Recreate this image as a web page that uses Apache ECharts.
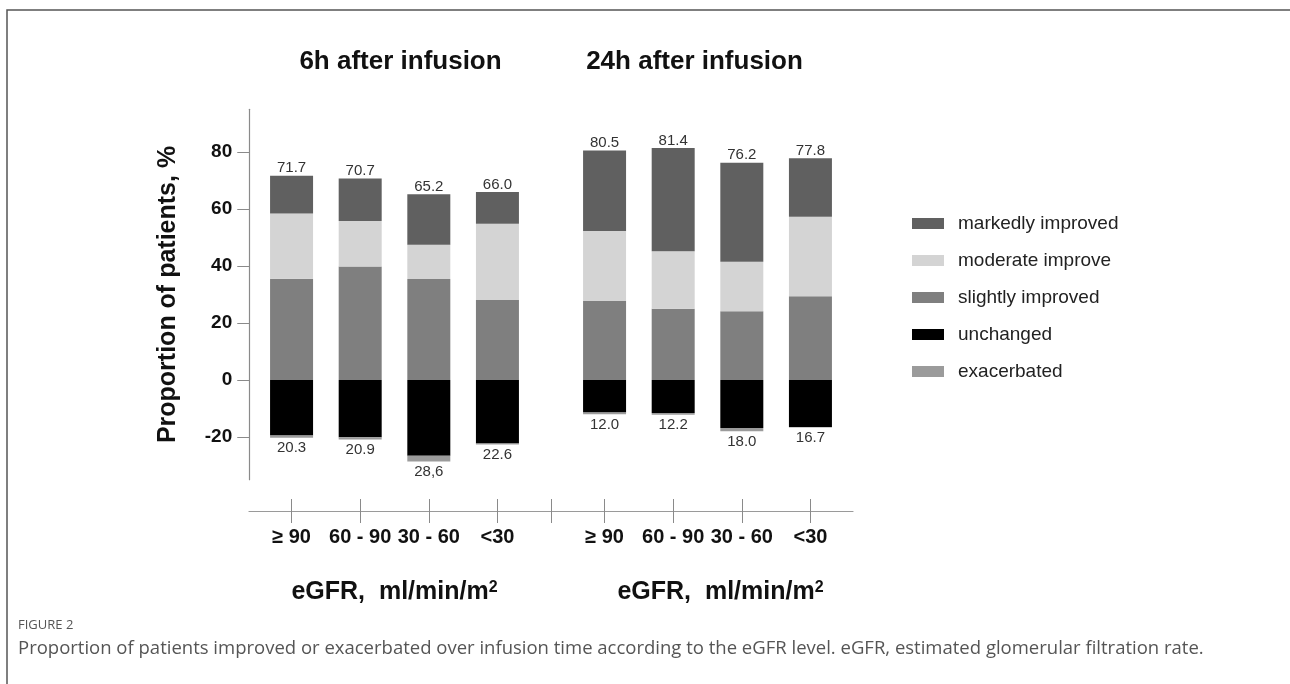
<!DOCTYPE html>
<html>
<head>
<meta charset="utf-8">
<title>eGFR infusion</title>
<script src="https://cdn.jsdelivr.net/npm/echarts@6/dist/echarts.min.js"></script>
<style>
  html, body { margin: 0; padding: 0; background: #fff; }
  #chart { width: 1290px; height: 684px; }
</style>
</head>
<body>
<div id="chart"></div>
<script>
const categories = ['≥ 90', '60 - 90', '30 - 60', '<30']
const yTicks = [-20, 0, 20, 40, 60, 80]

// 6h after infusion
const slightly6h = [35.5, 39.8, 35.4, 28.1]
const moderate6h = [22.9, 16.0, 12.1, 26.7]
const markedly6h = [13.3, 14.9, 17.7, 11.2]
const unchanged6h = [-19.5, -20.1, -26.6, -22.3]
const exacerbated6h = [-0.8, -0.8, -2.0, -0.3]
const topLabels6h = ['71.7', '70.7', '65.2', '66.0']
const bottomLabels6h = ['20.3', '20.9', '28,6', '22.6']

// 24h after infusion
const slightly24h = [27.7, 25.0, 24.1, 29.4]
const moderate24h = [24.6, 20.2, 17.4, 27.9]
const markedly24h = [28.2, 36.2, 34.7, 20.5]
const unchanged24h = [-11.4, -11.6, -16.8, -16.5]
const exacerbated24h = [-0.6, -0.6, -1.2, -0.2]
const topLabels24h = ['80.5', '81.4', '76.2', '77.8']
const bottomLabels24h = ['12.0', '12.2', '18.0', '16.7']

const colors = {
  'markedly improved': '#606060',
  'moderate improve': '#d4d4d4',
  'slightly improved': '#7f7f7f',
  'unchanged': '#000000',
  'exacerbated': '#9b9b9b'
}

const FONT = 'Liberation Sans, Arial, sans-serif'
const gridTop = 109.25
const gridHeight = 370.5

function valueLabel(texts, pos, dist) {
  return {
    show: true,
    position: pos,
    distance: dist,
    fontFamily: FONT,
    fontSize: 15,
    color: '#333',
    formatter: p => texts[p.dataIndex]
  }
}

function panelSeries(idx, d) {
  const base = { type: 'bar', xAxisIndex: idx, yAxisIndex: idx, stack: 'p' + idx, barWidth: 43 }
  return [
    Object.assign({}, base, { name: 'slightly improved', data: d.slightly, itemStyle: { color: colors['slightly improved'] } }),
    Object.assign({}, base, { name: 'moderate improve', data: d.moderate, itemStyle: { color: colors['moderate improve'] } }),
    Object.assign({}, base, { name: 'markedly improved', data: d.markedly, itemStyle: { color: colors['markedly improved'] }, label: valueLabel(d.top, 'top', 0) }),
    Object.assign({}, base, { name: 'unchanged', data: d.unchanged, itemStyle: { color: colors['unchanged'] } }),
    Object.assign({}, base, { name: 'exacerbated', data: d.exacerbated, itemStyle: { color: colors['exacerbated'] }, label: valueLabel(d.bottom, 'bottom', 3) })
  ]
}

// category axis of one panel: ticks cross the shared base line, labels and unit below
function catAxis(idx, padLeft) {
  return {
    type: 'category',
    gridIndex: idx,
    position: 'bottom',
    data: categories,
    offset: 19.25,
    axisLine: { show: true, onZero: false, lineStyle: { opacity: 0 } },
    axisTick: { show: true, alignWithLabel: true, length: 24, lineStyle: { color: '#8a8a8a', opacity: 1 } },
    axisLabel: { interval: 0, margin: 28, fontFamily: FONT, fontSize: 20, fontWeight: 'bold', color: '#111' },
    name: '{a|eGFR,  ml/min/m}{b|2}',
    nameLocation: 'middle',
    nameGap: 81,
    nameTextStyle: {
      padding: [0, 0, 0, padLeft],
      rich: {
        a: { fontFamily: FONT, fontSize: 25, fontWeight: 'bold', color: '#111' },
        b: { fontFamily: FONT, fontSize: 16, fontWeight: 'bold', color: '#111', verticalAlign: 'top' }
      }
    }
  }
}

const chart = echarts.init(document.getElementById('chart'))

chart.setOption({
  backgroundColor: '#fff',
  animation: false,
  grid: [
    { left: 257.25, width: 274.5, top: gridTop, height: gridHeight },
    { left: 570.25, width: 274.5, top: gridTop, height: gridHeight },
    { left: 249, width: 604, top: gridTop, height: gridHeight }
  ],
  legend: {
    orient: 'vertical',
    left: 907,
    top: 209,
    itemWidth: 32,
    itemHeight: 11,
    itemGap: 18,
    icon: 'rect',
    data: ['markedly improved', 'moderate improve', 'slightly improved', 'unchanged', 'exacerbated'],
    textStyle: { fontFamily: FONT, fontSize: 19, color: '#222', padding: [0, 0, 0, 9] }
  },
  xAxis: [
    catAxis(0, 0),
    catAxis(1, 26),
    {
      type: 'value', gridIndex: 2, position: 'bottom', min: 0, max: 1, offset: 31.25,
      axisLine: { show: true, onZero: false, lineStyle: { color: '#9a9a9a', width: 1.2 } },
      axisTick: { show: false }, axisLabel: { show: false }, splitLine: { show: false }
    },
    {
      type: 'value', gridIndex: 2, position: 'bottom', min: 0, max: 1, offset: 19.25,
      axisLine: { show: true, onZero: false, lineStyle: { opacity: 0 } },
      axisTick: { show: true, length: 24, customValues: [0.5], lineStyle: { color: '#8a8a8a', opacity: 1 } },
      axisLabel: { show: false }, splitLine: { show: false }
    }
  ],
  yAxis: [
    {
      type: 'value', gridIndex: 0, min: -35, max: 95, offset: 8,
      axisLine: { show: true, lineStyle: { color: '#8a8a8a', width: 1.2 } },
      axisTick: { show: true, length: 12, customValues: yTicks, lineStyle: { color: '#8a8a8a' } },
      axisLabel: { customValues: yTicks, margin: 17, fontFamily: FONT, fontSize: 19, fontWeight: 'bold', color: '#111' },
      splitLine: { show: false },
      name: 'Proportion of patients, %',
      nameLocation: 'middle',
      nameRotate: 90,
      nameGap: 69,
      nameTextStyle: { fontFamily: FONT, fontSize: 25, fontWeight: 'bold', color: '#111' }
    },
    { type: 'value', gridIndex: 1, min: -35, max: 95, show: false },
    { type: 'value', gridIndex: 2, min: 0, max: 1, show: false }
  ],
  series: [].concat(
    panelSeries(0, {
      slightly: slightly6h, moderate: moderate6h, markedly: markedly6h,
      unchanged: unchanged6h, exacerbated: exacerbated6h,
      top: topLabels6h, bottom: bottomLabels6h
    }),
    panelSeries(1, {
      slightly: slightly24h, moderate: moderate24h, markedly: markedly24h,
      unchanged: unchanged24h, exacerbated: exacerbated24h,
      top: topLabels24h, bottom: bottomLabels24h
    })
  ),
  graphic: [
    {
      type: 'rect', silent: true,
      shape: { x: 7, y: 10, width: 1300, height: 700 },
      style: { fill: null, stroke: '#555', lineWidth: 1.5 }
    },
    {
      type: 'text', x: 400.5, y: 62,
      style: { text: '6h after infusion', fontFamily: FONT, fontSize: 26, fontWeight: 'bold', fill: '#111', textAlign: 'center', textVerticalAlign: 'middle' }
    },
    {
      type: 'text', x: 694.5, y: 62,
      style: { text: '24h after infusion', fontFamily: FONT, fontSize: 26, fontWeight: 'bold', fill: '#111', textAlign: 'center', textVerticalAlign: 'middle' }
    },
    {
      type: 'text', x: 18, y: 625,
      style: { text: 'FIGURE 2', fontFamily: 'Open Sans, sans-serif', fontSize: 13, fill: '#555', textVerticalAlign: 'middle' }
    },
    {
      type: 'text', x: 18, y: 649,
      style: {
        text: 'Proportion of patients improved or exacerbated over infusion time according to the eGFR level. eGFR, estimated glomerular filtration rate.',
        fontFamily: 'Open Sans, sans-serif', fontSize: 18.5, fill: '#555', textVerticalAlign: 'middle'
      }
    }
  ]
})
</script>
</body>
</html>
